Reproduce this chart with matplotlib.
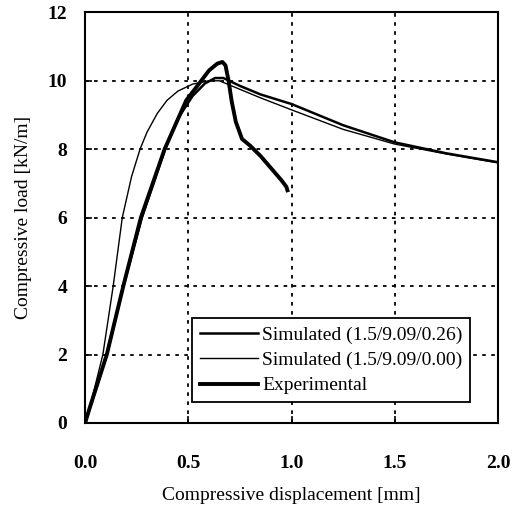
import numpy as np
from matplotlib import pyplot as plt

# Simulated (1.5/9.09/0.26)
sim26_x = [0.0, 0.05, 0.105, 0.185, 0.275, 0.387, 0.45, 0.52, 0.58, 0.63, 0.67, 0.75, 0.85, 1.0, 1.25, 1.5, 1.75, 2.0]
sim26_y = [0.0, 0.95, 2.0, 4.0, 6.0, 8.0, 8.9, 9.55, 9.92, 10.08, 10.08, 9.85, 9.6, 9.32, 8.7, 8.2, 7.88, 7.62]

# Simulated (1.5/9.09/0.00)
sim00_x = [0.0, 0.045, 0.086, 0.136, 0.18, 0.225, 0.266, 0.30, 0.35, 0.397, 0.45, 0.52, 0.6, 0.65, 0.75, 0.85, 1.0, 1.25, 1.5, 1.75, 2.0]
sim00_y = [0.0, 1.0, 2.0, 4.0, 6.0, 7.2, 8.0, 8.5, 9.05, 9.43, 9.7, 9.9, 10.0, 10.0, 9.75, 9.5, 9.15, 8.58, 8.15, 7.86, 7.6]

# Experimental
exp_x = [0.0, 0.02, 0.105, 0.185, 0.27, 0.385, 0.49, 0.55, 0.6, 0.64, 0.665, 0.68, 0.695, 0.71, 0.73, 0.76, 0.8, 0.85, 0.9, 0.95, 0.975, 0.98]
exp_y = [0.0, 0.4, 2.0, 4.0, 6.0, 8.0, 9.43, 9.9, 10.3, 10.5, 10.55, 10.45, 10.0, 9.4, 8.8, 8.3, 8.1, 7.8, 7.45, 7.1, 6.9, 6.8]

xticks = [0.0, 0.5, 1.0, 1.5, 2.0]
yticks = [0, 2, 4, 6, 8, 10, 12]

plt.rcParams['font.family'] = ['Liberation Serif', 'DejaVu Serif']

fig = plt.figure(figsize=(5.19, 5.07), dpi=100)
ax = fig.add_axes([0.164, 0.1657, 0.7955, 0.81])

ax.plot(sim26_x, sim26_y, color='black', lw=1.8, label='Simulated (1.5/9.09/0.26)')
ax.plot(sim00_x, sim00_y, color='black', lw=1.0, label='Simulated (1.5/9.09/0.00)')
ax.plot(exp_x, exp_y, color='black', lw=2.8, label='Experimental')

ax.set_xlim(0, 2.0)
ax.set_ylim(0, 12)
ax.set_xticks(xticks)
ax.set_yticks(yticks)
ax.set_xticklabels(['%.1f' % v for v in xticks], fontweight='bold', fontsize=14)
ax.set_yticklabels([str(v) for v in yticks], fontweight='bold', fontsize=14)
ax.tick_params(axis='x', direction='in', length=5, pad=23, width=1.2)
ax.tick_params(axis='y', direction='in', length=5, pad=13, width=1.2)

ax.grid(True, color='black', linestyle=(0, (2, 3)), linewidth=1.3)
for s in ax.spines.values():
    s.set_linewidth(1.5)

ax.set_xlabel('Compressive displacement [mm]', fontsize=14, labelpad=11)
ax.set_ylabel('Compressive load [kN/m]', fontsize=14, labelpad=11)

leg = ax.legend(loc='lower right', bbox_to_anchor=(0.956, 0.027), fontsize=14,
                fancybox=False, framealpha=1, edgecolor='black', handlelength=3.0,
                borderpad=0.4, labelspacing=0.4, handletextpad=0.2)
leg.get_frame().set_linewidth(1.3)

fig.savefig('out.png', dpi=100)
